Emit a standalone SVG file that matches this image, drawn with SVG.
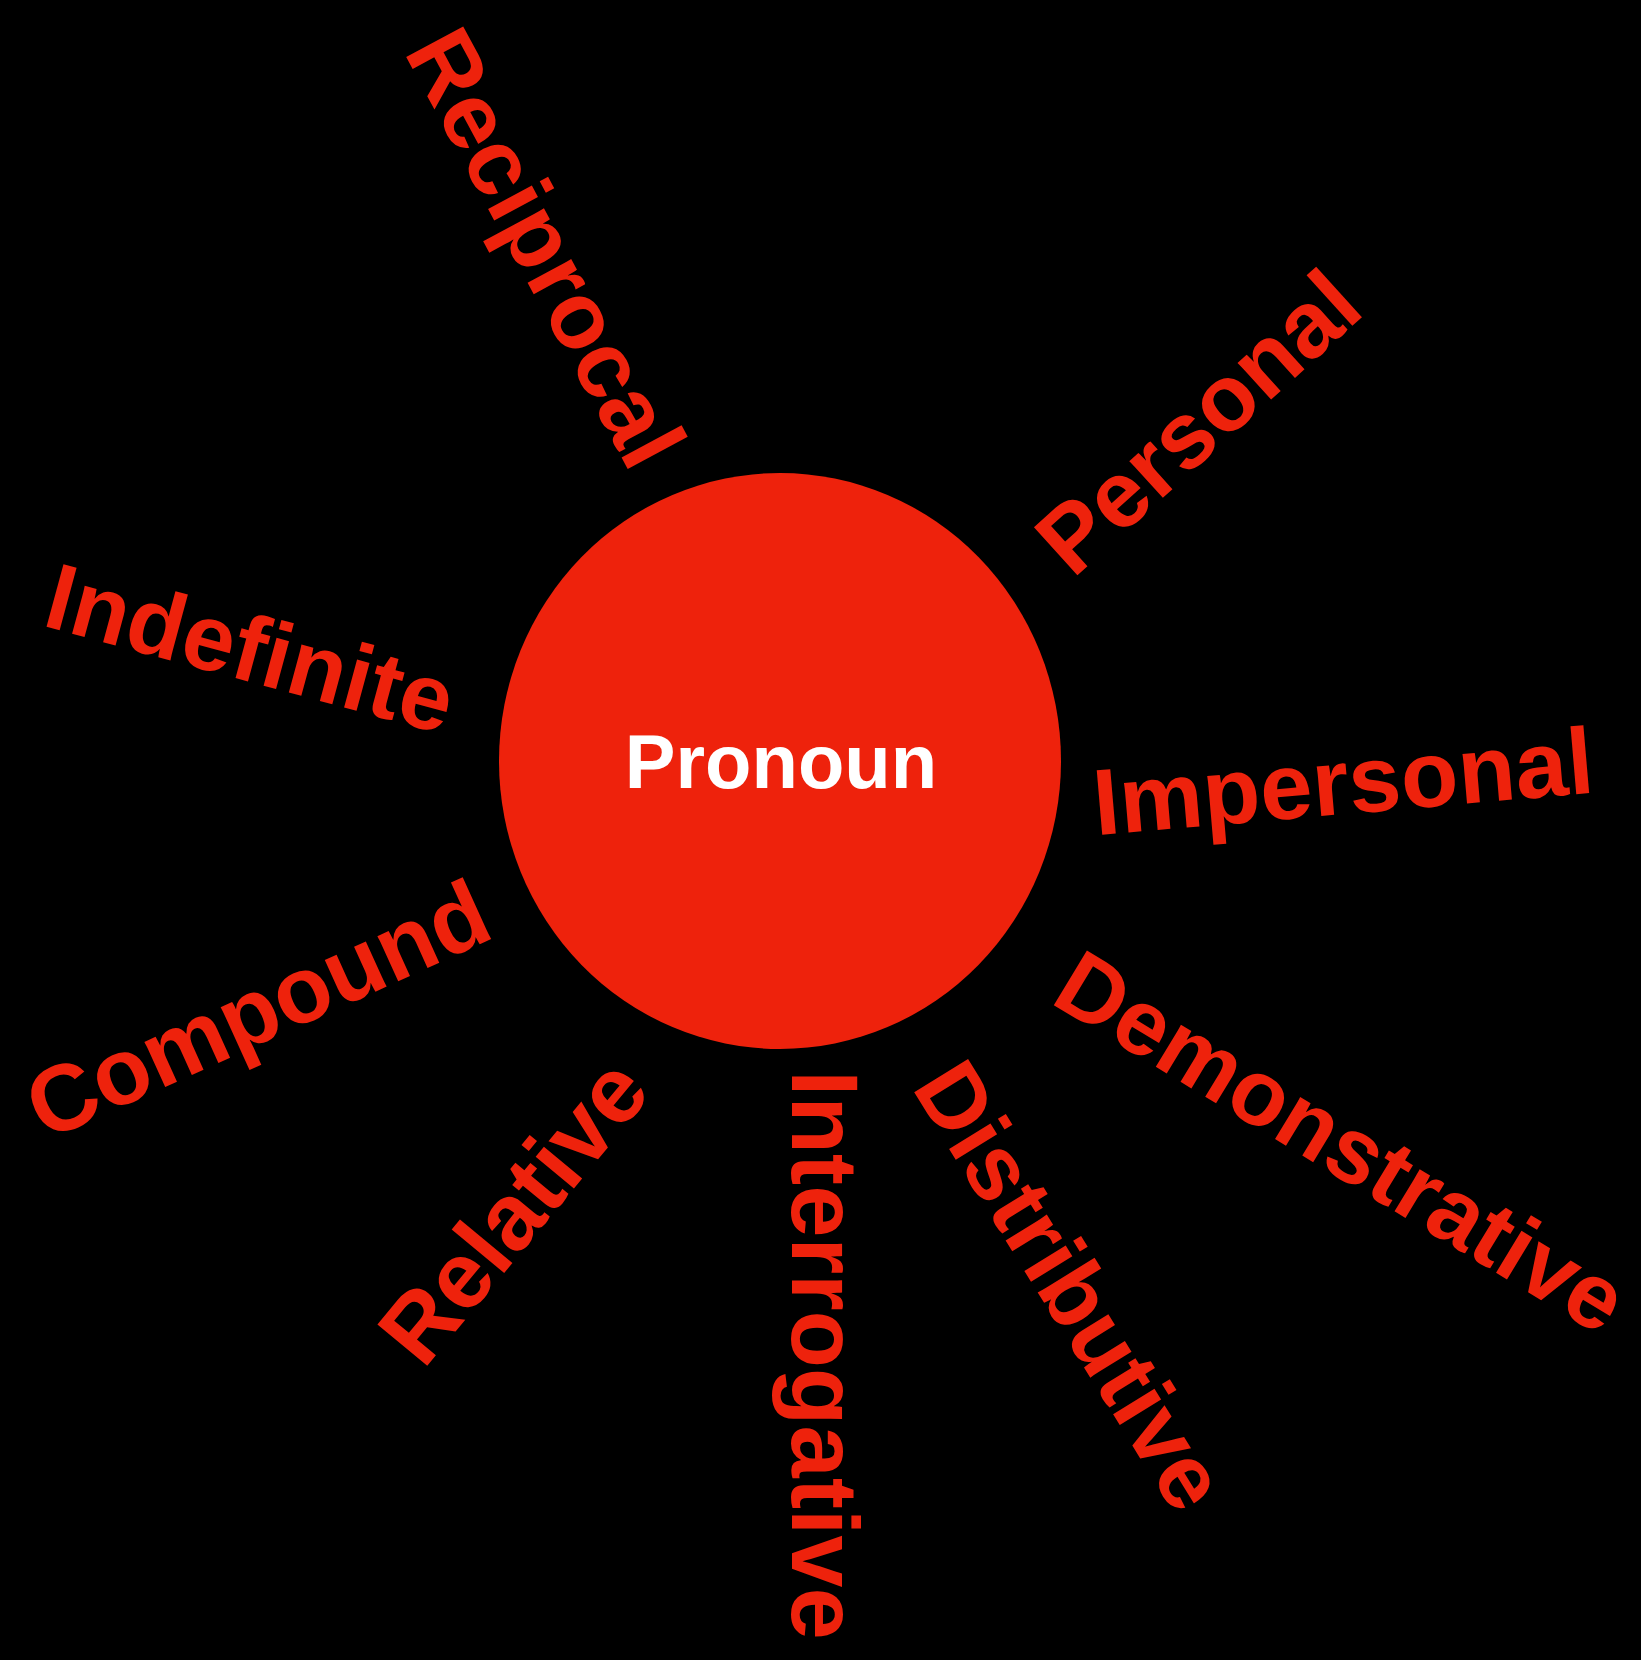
<svg xmlns="http://www.w3.org/2000/svg" width="1641" height="1660" viewBox="0 0 1641 1660">
<style>
.lbl{font-family:"Liberation Sans",Arial,Helvetica,sans-serif;font-weight:bold;font-size:94px;fill:#EE220C;text-anchor:middle}
.core{font-family:"Liberation Sans",Arial,Helvetica,sans-serif;font-weight:bold;font-size:76px;fill:#FFFFFF;text-anchor:middle}
</style>
<rect x="0" y="0" width="1641" height="1660" fill="#000000"/>
<g id="connectors"/>
<g id="pronoun">
<ellipse cx="780" cy="761" rx="281" ry="288" fill="#EE220C"/>
<text class="core" x="781" y="788">Pronoun</text>
</g>
<g id="reciprocal" transform="translate(547,247) rotate(61.7)"><text class="lbl" x="0" y="34">Reciprocal</text></g>
<g id="personal" transform="translate(1197,421) rotate(-42.2)"><text class="lbl" x="0" y="34">Personal</text></g>
<g id="indefinite" transform="translate(251,647) rotate(15.2)"><text class="lbl" x="0" y="34">Indefinite</text></g>
<g id="impersonal" transform="translate(1343,780) rotate(-4.9)"><text class="lbl" x="0" y="34">Impersonal</text></g>
<g id="compound" transform="translate(257,1008) rotate(-24.4)"><text class="lbl" x="0" y="34">Compound</text></g>
<g id="relative" transform="translate(512,1210) rotate(-50.4)"><text class="lbl" x="0" y="34">Relative</text></g>
<g id="interrogative" transform="translate(826,1355) rotate(90)"><text class="lbl" x="0" y="34">Interrogative</text></g>
<g id="distributive" transform="translate(1072,1285) rotate(58.3)"><text class="lbl" x="0" y="33" style="font-size:92px">Distributive</text></g>
<g id="demonstrative" transform="translate(1342,1141) rotate(31.2)"><text class="lbl" x="0" y="33" style="font-size:93px">Demonstrative</text></g>
</svg>
